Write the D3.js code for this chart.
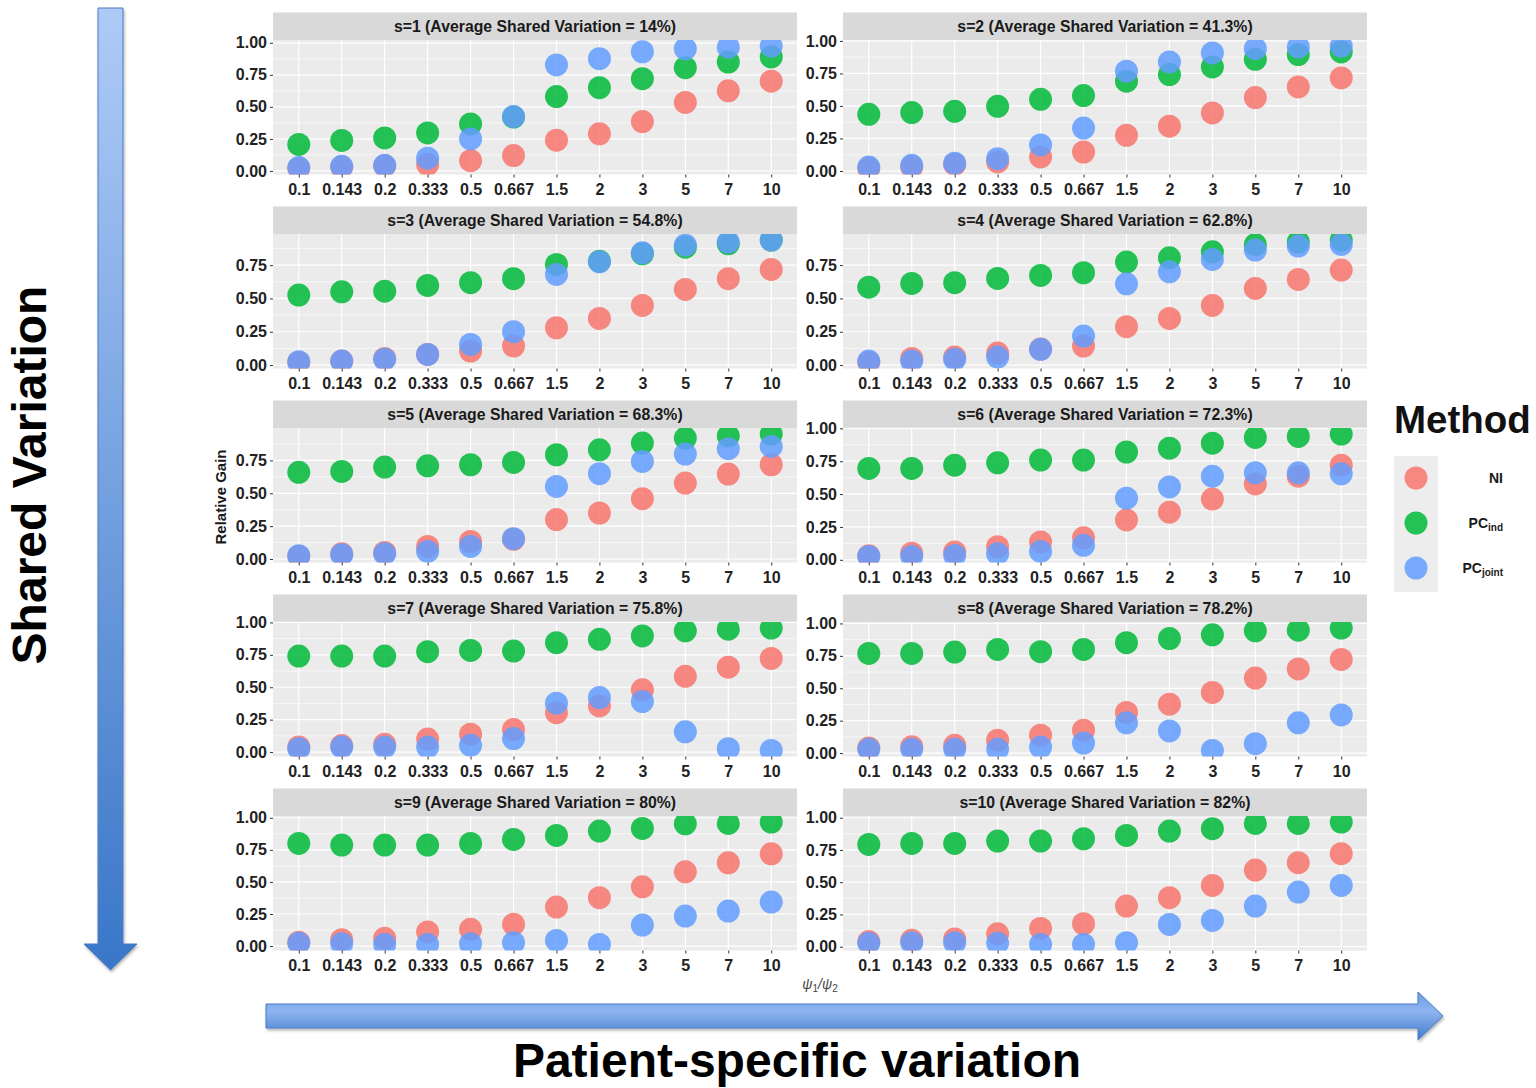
<!DOCTYPE html>
<html>
<head>
<meta charset="utf-8">
<script src="https://cdn.jsdelivr.net/npm/d3@7"></script>
<style>
  body { margin: 0; background: #fff; }
  svg { display: block; font-family: "Liberation Sans", Arial, sans-serif; }
</style>
</head>
<body>
<div id="chart"></div>
<script>
// x categories (psi1/psi2 ratio)
const ratioLabels = ["0.1", "0.143", "0.2", "0.333", "0.5", "0.667", "1.5", "2", "3", "5", "7", "10"];
// facet s values and their average shared variation
const sValues = [1, 2, 3, 4, 5, 6, 7, 8, 9, 10];
const sharedPct = ["14%", "41.3%", "54.8%", "62.8%", "68.3%", "72.3%", "75.8%", "78.2%", "80%", "82%"];
const yTicks = [0, 0.25, 0.5, 0.75, 1];
const yMinorTicks = [0.125, 0.375, 0.625, 0.875];

// Relative gain, one row per s
const niValues = [
  [0.02, 0.03, 0.04, 0.05, 0.08, 0.12, 0.24, 0.29, 0.385, 0.535, 0.625, 0.70],
  [0.02, 0.03, 0.05, 0.07, 0.108, 0.146, 0.274, 0.344, 0.446, 0.564, 0.646, 0.715],
  [0.02, 0.03, 0.05, 0.08, 0.105, 0.143, 0.28, 0.35, 0.448, 0.568, 0.648, 0.718],
  [0.02, 0.05, 0.06, 0.09, 0.12, 0.143, 0.288, 0.35, 0.448, 0.575, 0.643, 0.713],
  [0.02, 0.04, 0.05, 0.096, 0.134, 0.15, 0.30, 0.35, 0.459, 0.578, 0.646, 0.717],
  [0.03, 0.05, 0.06, 0.10, 0.136, 0.167, 0.303, 0.362, 0.462, 0.577, 0.636, 0.72],
  [0.04, 0.05, 0.06, 0.10, 0.138, 0.174, 0.304, 0.356, 0.48, 0.584, 0.655, 0.722],
  [0.04, 0.05, 0.06, 0.10, 0.138, 0.177, 0.314, 0.377, 0.468, 0.579, 0.649, 0.722],
  [0.03, 0.05, 0.06, 0.11, 0.13, 0.169, 0.304, 0.377, 0.462, 0.579, 0.649, 0.719],
  [0.04, 0.05, 0.06, 0.10, 0.142, 0.178, 0.315, 0.38, 0.475, 0.594, 0.651, 0.721]
];
const pcIndValues = [
  [0.207, 0.238, 0.258, 0.297, 0.367, 0.42, 0.58, 0.65, 0.72, 0.806, 0.85, 0.89],
  [0.436, 0.449, 0.459, 0.497, 0.551, 0.58, 0.69, 0.741, 0.80, 0.859, 0.895, 0.915],
  [0.525, 0.55, 0.555, 0.598, 0.618, 0.648, 0.755, 0.78, 0.835, 0.885, 0.91, 0.938],
  [0.585, 0.613, 0.618, 0.65, 0.673, 0.693, 0.773, 0.805, 0.85, 0.905, 0.925, 0.938],
  [0.659, 0.666, 0.699, 0.709, 0.717, 0.735, 0.793, 0.831, 0.882, 0.92, 0.937, 0.95],
  [0.695, 0.695, 0.72, 0.738, 0.759, 0.759, 0.82, 0.849, 0.887, 0.931, 0.938, 0.956],
  [0.74, 0.74, 0.74, 0.774, 0.784, 0.779, 0.844, 0.87, 0.896, 0.935, 0.948, 0.956],
  [0.769, 0.769, 0.779, 0.80, 0.782, 0.80, 0.852, 0.883, 0.912, 0.943, 0.948, 0.964],
  [0.80, 0.787, 0.787, 0.787, 0.80, 0.831, 0.862, 0.896, 0.917, 0.953, 0.956, 0.966],
  [0.793, 0.801, 0.801, 0.819, 0.819, 0.837, 0.863, 0.897, 0.915, 0.956, 0.956, 0.966]
];
const pcJointValues = [
  [0.026, 0.036, 0.044, 0.10, 0.25, 0.424, 0.827, 0.876, 0.93, 0.953, 0.966, 0.974],
  [0.03, 0.044, 0.06, 0.095, 0.20, 0.33, 0.767, 0.838, 0.908, 0.94, 0.954, 0.96],
  [0.025, 0.03, 0.043, 0.08, 0.155, 0.25, 0.68, 0.775, 0.843, 0.90, 0.923, 0.938],
  [0.03, 0.03, 0.043, 0.06, 0.118, 0.218, 0.61, 0.70, 0.793, 0.863, 0.893, 0.905],
  [0.025, 0.033, 0.04, 0.058, 0.096, 0.155, 0.552, 0.649, 0.742, 0.798, 0.839, 0.856],
  [0.026, 0.026, 0.033, 0.046, 0.064, 0.11, 0.469, 0.554, 0.636, 0.662, 0.662, 0.654],
  [0.026, 0.039, 0.039, 0.039, 0.052, 0.104, 0.377, 0.42, 0.39, 0.156, 0.026, 0.013],
  [0.029, 0.029, 0.029, 0.029, 0.047, 0.078, 0.234, 0.171, 0.021, 0.073, 0.234, 0.294],
  [0.021, 0.018, 0.013, 0.013, 0.018, 0.026, 0.044, 0.013, 0.164, 0.234, 0.273, 0.343],
  [0.026, 0.031, 0.031, 0.026, 0.018, 0.018, 0.031, 0.173, 0.204, 0.315, 0.424, 0.475]
];

const methodNames = ["NI", "PCind", "PCjoint"];
const methodColors = ["#F8766D", "#00BA38", "#619CFF"];
const methodSeries = [niValues, pcIndValues, pcJointValues];

// layout
const colX = [273, 843];
const panelW = 524, stripH = 27.5, plotH = 134.5, rowTop = 12.5, rowStep = 194;
const pointR = 11.5;

const svg = d3.select("#chart").append("svg")
  .attr("width", 1536)
  .attr("height", 1088);

const defs = svg.append("defs");

// ---- facet panels ----
sValues.forEach((s, i) => {
  const col = i % 2, row = Math.floor(i / 2);
  const g = svg.append("g")
    .attr("transform", `translate(${colX[col]},${rowTop + row * rowStep})`);

  // strip
  g.append("rect")
    .attr("width", panelW).attr("height", stripH)
    .attr("fill", "#d9d9d9");
  g.append("text")
    .attr("x", panelW / 2).attr("y", stripH / 2 + 5.5)
    .attr("text-anchor", "middle")
    .attr("fill", "#1a1a1a")
    .style("font-size", "15.8px").style("font-weight", "bold")
    .text(`s=${s} (Average Shared Variation = ${sharedPct[i]})`);

  const p = g.append("g").attr("transform", `translate(0,${stripH})`);

  const allVals = methodSeries.flatMap(m => m[i]);
  const [lo, hi] = d3.extent(allVals);
  const pad = (hi - lo) * 0.05;
  const y = d3.scaleLinear().domain([lo - pad, hi + pad]).range([plotH, 0]);
  const x = d3.scalePoint().domain(ratioLabels).range([0, panelW]).padding(0.6);
  const inDomain = v => v >= y.domain()[0] && v <= y.domain()[1];

  p.append("rect")
    .attr("width", panelW).attr("height", plotH)
    .attr("fill", "#ebebeb");

  p.selectAll(".minor").data(yMinorTicks.filter(inDomain)).join("line")
    .attr("x1", 0).attr("x2", panelW)
    .attr("y1", d => y(d)).attr("y2", d => y(d))
    .attr("stroke", "#fff").attr("stroke-width", 0.6);
  p.selectAll(".major").data(yTicks.filter(inDomain)).join("line")
    .attr("x1", 0).attr("x2", panelW)
    .attr("y1", d => y(d)).attr("y2", d => y(d))
    .attr("stroke", "#fff").attr("stroke-width", 1.2);
  p.selectAll(".vgrid").data(ratioLabels).join("line")
    .attr("x1", d => x(d)).attr("x2", d => x(d))
    .attr("y1", 0).attr("y2", plotH)
    .attr("stroke", "#fff").attr("stroke-width", 1.2);

  const clipId = "clip-" + i;
  defs.append("clipPath").attr("id", clipId)
    .append("rect").attr("width", panelW).attr("height", plotH);

  const pts = p.append("g").attr("clip-path", `url(#${clipId})`);
  methodSeries.forEach((series, m) => {
    pts.append("g").selectAll("circle")
      .data(series[i])
      .join("circle")
      .attr("cx", (d, k) => x(ratioLabels[k]))
      .attr("cy", d => y(d))
      .attr("r", pointR)
      .attr("fill", methodColors[m])
      .attr("fill-opacity", 0.85);
  });

  // axes
  const yAxis = p.append("g")
    .call(d3.axisLeft(y).tickValues(yTicks.filter(inDomain))
      .tickSize(3).tickPadding(3).tickFormat(d3.format(".2f")));
  const xAxis = p.append("g")
    .attr("transform", `translate(0,${plotH})`)
    .call(d3.axisBottom(x).tickSize(3).tickPadding(6));
  [yAxis, xAxis].forEach(ax => {
    ax.select(".domain").remove();
    ax.selectAll(".tick line").attr("stroke", "#333");
    ax.selectAll(".tick text")
      .attr("fill", "#222")
      .style("font-size", "16px")
      .style("font-weight", "bold")
      .style("font-family", "\"Liberation Sans\", Arial, sans-serif");
  });
});

// axis titles
svg.append("text")
  .attr("transform", "translate(226,497) rotate(-90)")
  .attr("text-anchor", "middle")
  .attr("fill", "#1a1a1a")
  .style("font-size", "15px").style("font-weight", "bold")
  .text("Relative Gain");

const xTitle = svg.append("text")
  .attr("x", 820).attr("y", 989)
  .attr("text-anchor", "middle")
  .attr("fill", "#444")
  .style("font-size", "14px").style("font-style", "italic");
xTitle.append("tspan").text("ψ");
xTitle.append("tspan").attr("dy", 3).style("font-size", "10px").style("font-style", "normal").text("1");
xTitle.append("tspan").attr("dy", -3).text("/ψ");
xTitle.append("tspan").attr("dy", 3).style("font-size", "10px").style("font-style", "normal").text("2");

// ---- legend ----
svg.append("text")
  .attr("x", 1394).attr("y", 433)
  .attr("fill", "#111")
  .style("font-size", "38.5px").style("font-weight", "bold")
  .text("Method");

const legendY = d3.scalePoint().domain(methodNames).range([478, 568]);
svg.append("rect")
  .attr("x", 1394).attr("y", 456).attr("width", 44).attr("height", 136)
  .attr("fill", "#ededed");
svg.selectAll(".lgpt").data(methodNames).join("circle")
  .attr("cx", 1416).attr("cy", d => legendY(d))
  .attr("r", pointR)
  .attr("fill", (d, k) => methodColors[k])
  .attr("fill-opacity", 0.85);

const legendText = [["NI", ""], ["PC", "ind"], ["PC", "joint"]];
legendText.forEach(([main, sub], k) => {
  const t = svg.append("text")
    .attr("x", 1503).attr("y", legendY(methodNames[k]) + 5)
    .attr("text-anchor", "end")
    .attr("fill", "#1a1a1a")
    .style("font-size", "14px").style("font-weight", "bold");
  t.append("tspan").text(main);
  if (sub) t.append("tspan").attr("dy", 3).style("font-size", "10px").text(sub);
});

// ---- decorative arrows ----
const vGrad = defs.append("linearGradient").attr("id", "vgrad")
  .attr("x1", 0).attr("y1", 0).attr("x2", 0).attr("y2", 1);
vGrad.append("stop").attr("offset", "0%").attr("stop-color", "#aecbf7");
vGrad.append("stop").attr("offset", "100%").attr("stop-color", "#3a76c8");

const hGrad = defs.append("linearGradient").attr("id", "hgrad")
  .attr("x1", 0).attr("y1", 0).attr("x2", 0).attr("y2", 1);
hGrad.append("stop").attr("offset", "0%").attr("stop-color", "#6e9de2");
hGrad.append("stop").attr("offset", "40%").attr("stop-color", "#8db5f0");
hGrad.append("stop").attr("offset", "100%").attr("stop-color", "#4479cb");

const shadow = defs.append("filter").attr("id", "shadow")
  .attr("x", "-10%").attr("y", "-10%").attr("width", "130%").attr("height", "130%");
shadow.append("feDropShadow")
  .attr("dx", 1).attr("dy", 2).attr("stdDeviation", 1.5)
  .attr("flood-color", "#000").attr("flood-opacity", 0.3);

svg.append("path")
  .attr("d", "M98,8 L123,8 L123,944 L137,944 L110.5,970 L84,944 L98,944 Z")
  .attr("fill", "url(#vgrad)")
  .attr("stroke", "#4a7cc4").attr("stroke-width", 1)
  .attr("filter", "url(#shadow)");

svg.append("path")
  .attr("d", "M266,1004 L1418,1004 L1418,992 L1443,1016 L1418,1040 L1418,1028 L266,1028 Z")
  .attr("fill", "url(#hgrad)")
  .attr("stroke", "#4a7cc4").attr("stroke-width", 1)
  .attr("filter", "url(#shadow)");

svg.append("text")
  .attr("transform", "translate(46,475) rotate(-90)")
  .attr("text-anchor", "middle")
  .attr("fill", "#000")
  .style("font-size", "48px").style("font-weight", "bold")
  .text("Shared Variation");

svg.append("text")
  .attr("x", 797).attr("y", 1077)
  .attr("text-anchor", "middle")
  .attr("fill", "#000")
  .style("font-size", "48px").style("font-weight", "bold")
  .text("Patient-specific variation");
</script>
</body>
</html>
